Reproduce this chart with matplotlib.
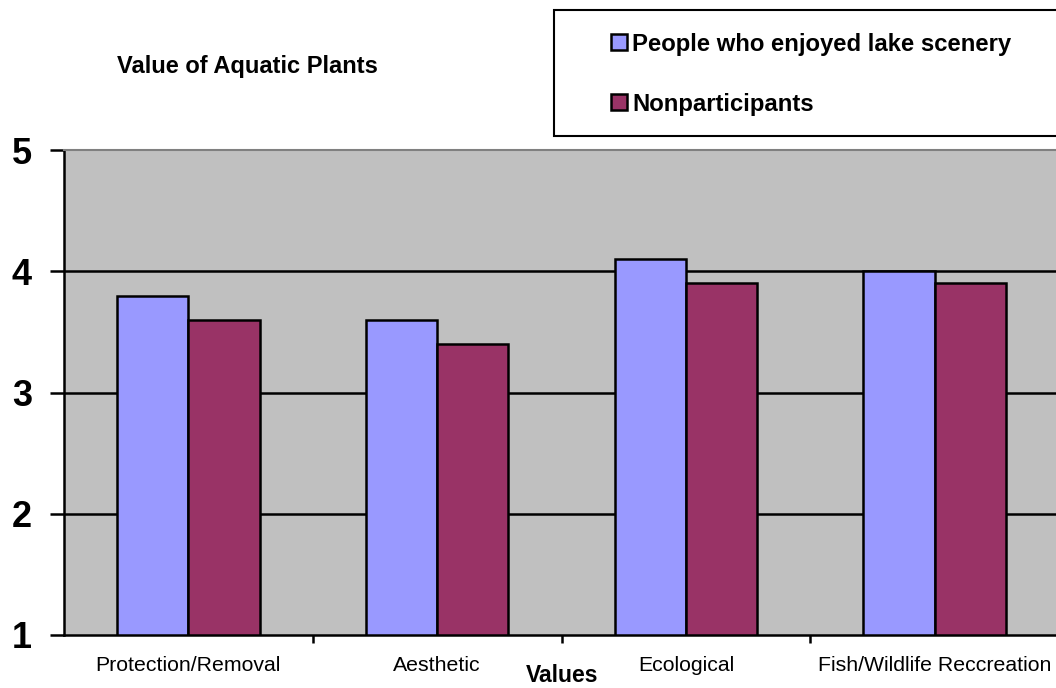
import matplotlib
matplotlib.use("Agg")
import matplotlib.pyplot as plt
from matplotlib.patches import Rectangle, Patch
import numpy as np

plt.rcParams['font.family'] = ['Liberation Sans', 'DejaVu Sans']

categories = ["Protection/Removal", "Aesthetic", "Ecological", "Fish/Wildlife Reccreation"]
series_names = ["People who enjoyed lake scenery", "Nonparticipants"]
enjoyed = [3.8, 3.6, 4.1, 4.0]
nonpart = [3.6, 3.4, 3.9, 3.9]
yticks = [1, 2, 3, 4, 5]
colors = ["#9999FF", "#993366"]

W, H = 1056, 688
fig = plt.figure(figsize=(W / 100, H / 100), dpi=100)
ax = fig.add_axes([64 / W, 1 - 635 / H, (1059 - 64) / W, (635 - 150) / H])
ax.set_facecolor("#C0C0C0")

x = np.arange(len(categories))
bw = 0.286
ax.bar(x - bw / 2, np.array(enjoyed) - 1, bw, bottom=1, color=colors[0],
       edgecolor="black", linewidth=1.8, zorder=3)
ax.bar(x + bw / 2, np.array(nonpart) - 1, bw, bottom=1, color=colors[1],
       edgecolor="black", linewidth=1.8, zorder=3)

ax.set_xlim(-0.5, len(categories) - 0.5)
ax.set_ylim(1, 5)
ax.set_yticks(yticks)
ax.set_yticklabels([str(v) for v in yticks], fontsize=26, fontweight="bold")
for v in yticks[1:-1]:
    ax.axhline(v, color="black", linewidth=1.8, zorder=1)

ax.set_xticks(x)
ax.set_xticklabels(categories, fontsize=15.3)
ax.set_xticks(np.arange(len(categories)) + 0.5, minor=True)
ax.tick_params(axis="x", which="major", length=0, pad=15)
ax.tick_params(axis="x", which="minor", length=6, width=1.8, direction="out")
ax.tick_params(axis="y", length=10, width=1.8, pad=13)

for s in ["left", "bottom"]:
    ax.spines[s].set_linewidth(1.8)
    ax.spines[s].set_color("black")
ax.spines["top"].set_color("#808080")
ax.spines["top"].set_linewidth(1.5)
ax.spines["right"].set_visible(False)

fig.text(562 / W, 1 - 675 / H, "Values", ha="center", va="center",
         fontsize=16.5, fontweight="bold")
fig.text(247 / W, 1 - 66 / H, "Value of Aquatic Plants", ha="center", va="center",
         fontsize=17, fontweight="bold")

# legend box
fig.patches.append(Rectangle((554 / W, 1 - 136 / H), (1070 - 554) / W, (136 - 10) / H,
                             transform=fig.transFigure, facecolor="white",
                             edgecolor="black", linewidth=1.5, clip_on=False))
handles = [Patch(facecolor=c, edgecolor="black", linewidth=1.8) for c in colors]
fig.legend(handles, series_names, loc="upper left",
           bbox_to_anchor=(611 / W, 1 - 32.5 / H), frameon=False,
           prop={"weight": "bold", "size": 17.2}, handlelength=0.65, handleheight=0.65,
           handletextpad=0.25, labelspacing=1.55, borderpad=0, borderaxespad=0)

fig.savefig("out.png", dpi=100)
